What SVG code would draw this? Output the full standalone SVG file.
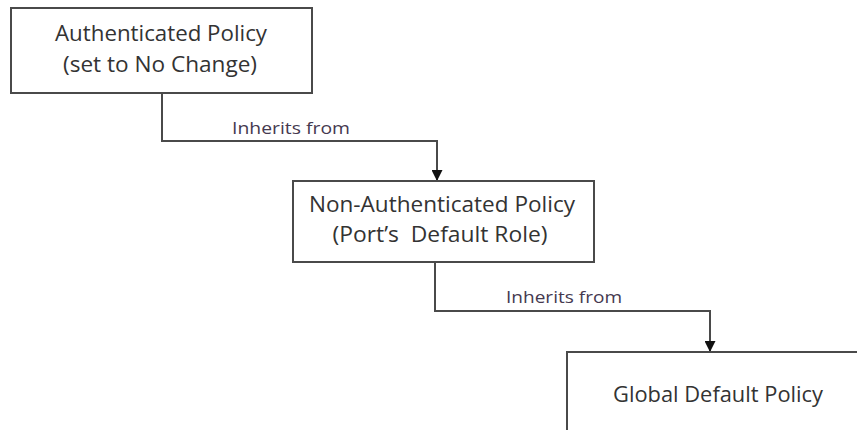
<svg xmlns="http://www.w3.org/2000/svg" width="857" height="430" viewBox="0 0 857 430">
<defs>
<marker id="arr" markerWidth="11" markerHeight="11" refX="11" refY="5.5" orient="auto" markerUnits="userSpaceOnUse" viewBox="0 0 11 11">
<path d="M0,0 L11,5.5 L0,11 Z" fill="#111"/>
</marker>
<style>
.box{fill:#fff;stroke:#4a4a4a;stroke-width:2}
.t{font-family:"Open Sans","Noto Sans",sans-serif;font-size:21px;fill:#333;text-anchor:middle;white-space:pre}
.l{font-family:"Open Sans","Noto Sans",sans-serif;font-size:17px;fill:#45394f}
.c{fill:none;stroke:#4a4a4a;stroke-width:2}
</style>
</defs>
<rect width="857" height="430" fill="#fff"/>
<g id="connectors">
<path class="c" d="M162,93 V141 H437 V181" marker-end="url(#arr)"/>
<path class="c" d="M435,262 V311 H710 V352" marker-end="url(#arr)"/>
<text class="l" x="232" y="134" textLength="118" lengthAdjust="spacingAndGlyphs">Inherits from</text>
<text class="l" x="506" y="303" textLength="116" lengthAdjust="spacingAndGlyphs">Inherits from</text>
</g>
<g id="node-authenticated">
<rect class="box" x="11" y="8" width="301" height="85"/>
<text class="t" x="161" y="41" textLength="212" lengthAdjust="spacingAndGlyphs">Authenticated Policy</text>
<text class="t" x="160" y="72" textLength="194" lengthAdjust="spacingAndGlyphs">(set to No Change)</text>
</g>
<g id="node-nonauthenticated">
<rect class="box" x="293" y="181" width="301" height="81"/>
<text class="t" x="442" y="212" textLength="266" lengthAdjust="spacingAndGlyphs">Non-Authenticated Policy</text>
<text class="t" x="440" y="242" textLength="215" lengthAdjust="spacingAndGlyphs" xml:space="preserve">(Port’s  Default Role)</text>
</g>
<g id="node-global">
<rect class="box" x="567" y="352" width="300" height="90"/>
<text class="t" x="718" y="402" textLength="210" lengthAdjust="spacingAndGlyphs">Global Default Policy</text>
</g>
</svg>
